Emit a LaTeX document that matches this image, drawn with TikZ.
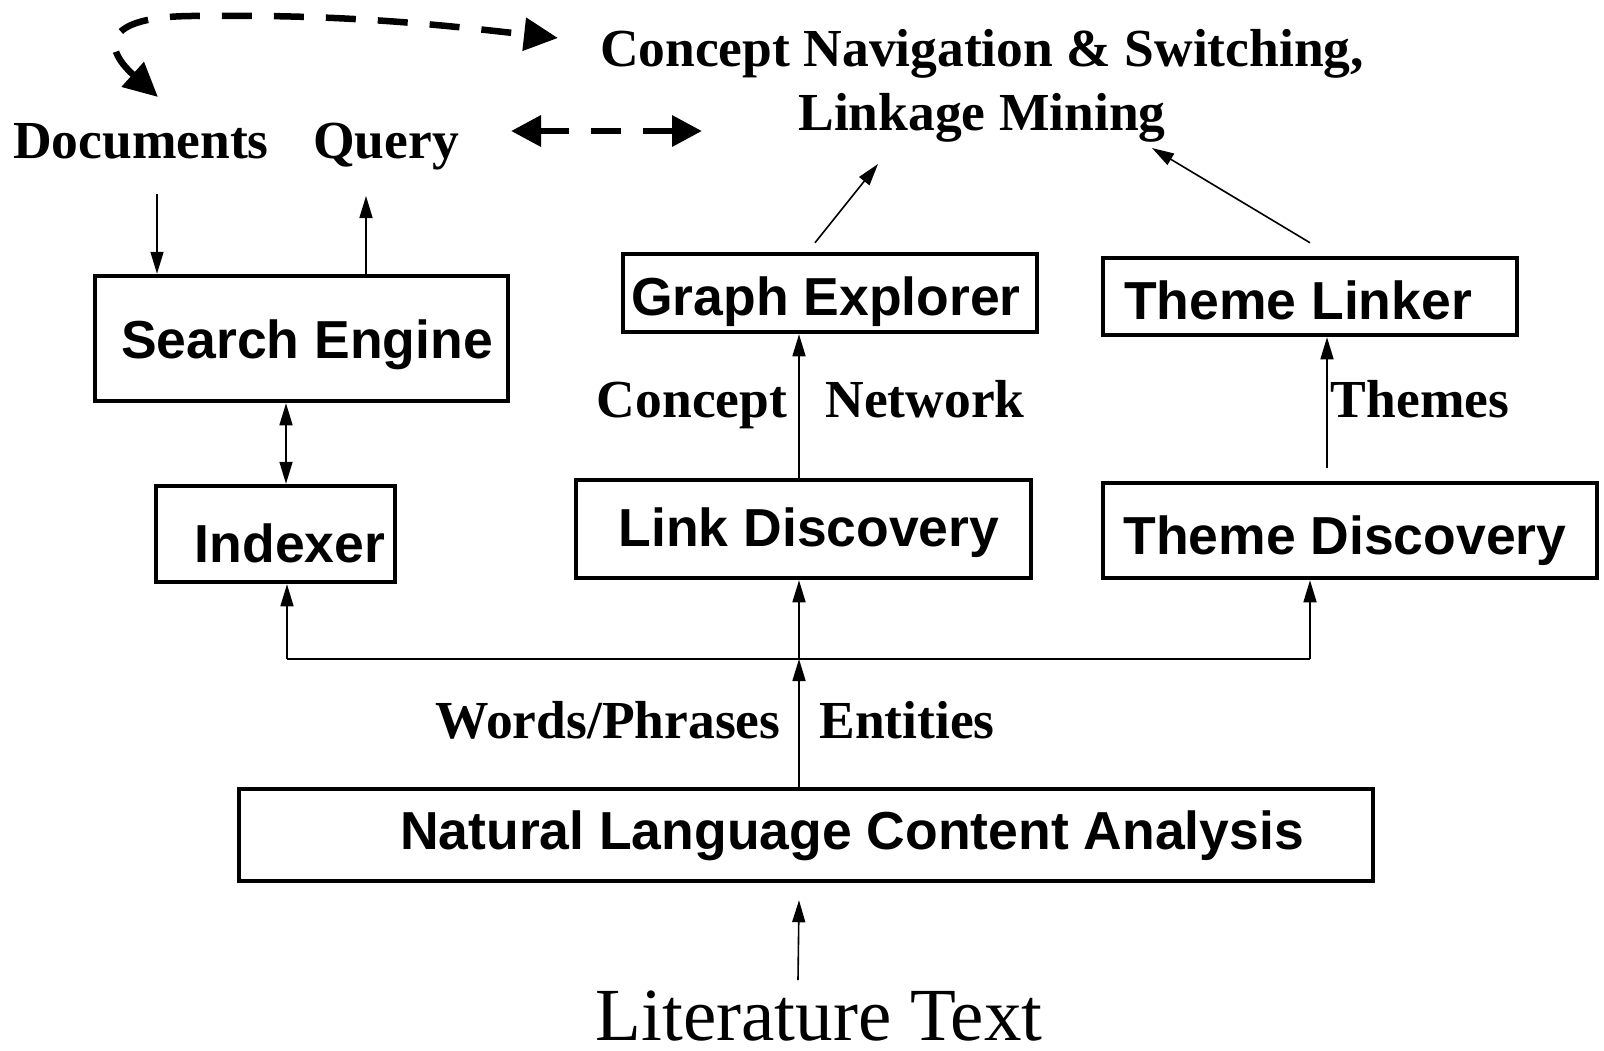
\documentclass[tikz,border=0pt]{standalone}
\usepackage{fontspec}
\setmainfont{Liberation Serif}
\setsansfont{Liberation Sans}
\usetikzlibrary{arrows.meta,calc}

\begin{document}
\begin{tikzpicture}[x=1pt,y=-1pt,
  box/.style={draw, line width=4.5pt, inner sep=0pt},
  lbl/.style={font=\fontsize{53.5}{60}\selectfont\bfseries, inner sep=0pt, anchor=base},
  boxlbl/.style={font=\fontsize{53.5}{60}\selectfont\sffamily\bfseries, inner sep=0pt, anchor=base},
  littxt/.style={font=\fontsize{75}{80}\selectfont, inner sep=0pt, anchor=base},
  wire/.style={line width=1.6pt},
  arr/.style={wire, -{Triangle[length=22pt,width=13pt]}},
  darr/.style={wire, {Triangle[length=22pt,width=13pt]}-{Triangle[length=22pt,width=13pt]}},
  bigdash/.style={line width=6.5pt, dash pattern=on 30pt off 22pt,
    {Triangle[length=34pt,width=32pt]}-{Triangle[length=34pt,width=32pt]}},
  hdash/.style={line width=6.5pt, dash pattern=on 30pt off 22pt,
    {Triangle[length=30pt,width=30pt]}-{Triangle[length=30pt,width=30pt]}}
]
\fill[white] (0,0) rectangle (1604,1050);
\useasboundingbox (0,0) rectangle (1604,1050);

% top labels
\node[lbl] (nav1) at (982,66) {Concept Navigation \& Switching,};
\node[lbl] (nav2) at (982,130) {Linkage Mining};
\node[lbl] (docs) at (141,158) {Documents};
\node[lbl] (query) at (386,158) {Query};

% boxes
\node[box, minimum width=413pt, minimum height=125pt] (se) at (301.5,338.5) {};
\node[boxlbl] (se-t) at (307,358) {Search Engine};
\node[box, minimum width=239pt, minimum height=96pt] (idx) at (275.5,534) {};
\node[boxlbl] (idx-t) at (290,562) {Indexer};
\node[box, minimum width=414pt, minimum height=78pt] (ge) at (830,293) {};
\node[boxlbl] (ge-t) at (826,315) {Graph Explorer};
\node[box, minimum width=414pt, minimum height=77pt] (tl) at (1310,296.5) {};
\node[boxlbl] (tl-t) at (1298,319) {Theme Linker};
\node[box, minimum width=455pt, minimum height=98pt] (ld) at (803.5,529) {};
\node[boxlbl] (ld-t) at (809,546) {Link Discovery};
\node[box, minimum width=494pt, minimum height=95pt] (td) at (1350,530.5) {};
\node[boxlbl] (td-t) at (1345,554) {Theme Discovery};
\node[box, minimum width=1134pt, minimum height=92pt] (nlca) at (806,835) {};
\node[boxlbl] (nlca-t) at (852,849) {Natural Language Content Analysis};

% connector labels
\node[lbl] (cn1) at (692,417) {Concept};
\node[lbl] (cn2) at (925,417) {Network};
\node[lbl] (thm) at (1420,417) {Themes};
\node[lbl] (wp) at (608,738) {Words/Phrases};
\node[lbl] (ent) at (907,738) {Entities};
\node[littxt] (lit) at (819,1040) {Literature Text};

% distribution bus from the content analysis
\coordinate (busL) at (287,659);
\coordinate (busM) at (799,659);
\coordinate (busR) at (1310,659);
\draw[wire] (busL) -- (busR);
\draw[arr] (busL) -- (busL |- idx.south);
\draw[arr] (busM) -- (busM |- ld.south);
\draw[arr] (busR) -- (busR |- td.south);
\draw[arr] (busM |- nlca.north) -- (busM);

% literature input
\coordinate (litA) at ($(lit.base)+(-21,-60)$);
\coordinate (nlA) at ($(nlca.south)+(-7,17)$);
\draw[arr] (litA) -- (nlA);

% upward flows
\draw[arr] (busM |- ld.north) -- (busM |- ge.south);
\coordinate (tdA) at ($(td.north)+(-23,-13)$);
\draw[arr] (tdA) -- (tdA |- tl.south);
\coordinate (geA) at ($(ge.north)+(-15,-9)$);
\coordinate (navA) at ($(nav2.base)+(-104,34)$);
\draw[arr] (geA) -- (navA);
\coordinate (tlA) at ($(tl.north)+(0,-13)$);
\coordinate (navB) at ($(nav2.base)+(170,18)$);
\draw[arr] (tlA) -- (navB);

% search engine side
\draw[darr] ([xshift=-15.5pt]se.south) -- ([xshift=10.5pt]idx.north);
\coordinate (dA) at ($(docs.base)+(16,36)$);
\draw[arr] (dA) -- (dA |- se.north);
\coordinate (qA) at ($(query.base)+(-20,38)$);
\draw[arr] (qA |- se.north) -- (qA);

% dashed interaction arrows
\coordinate (hdL) at ($(query.base)+(125,-27)$);
\coordinate (hdR) at ($(hdL)+(191,0)$);
\draw[hdash] (hdL) -- (hdR);
\coordinate (cvA) at ($(docs.base)+(17,-61)$);
\coordinate (cvB) at ($(nav1.base)+(-424,-28)$);
\draw[bigdash] (cvA) .. controls (100,45) and (105,15) .. (200,16)
  .. controls (350,14) and (450,26) .. (cvB);
\end{tikzpicture}
\end{document}
